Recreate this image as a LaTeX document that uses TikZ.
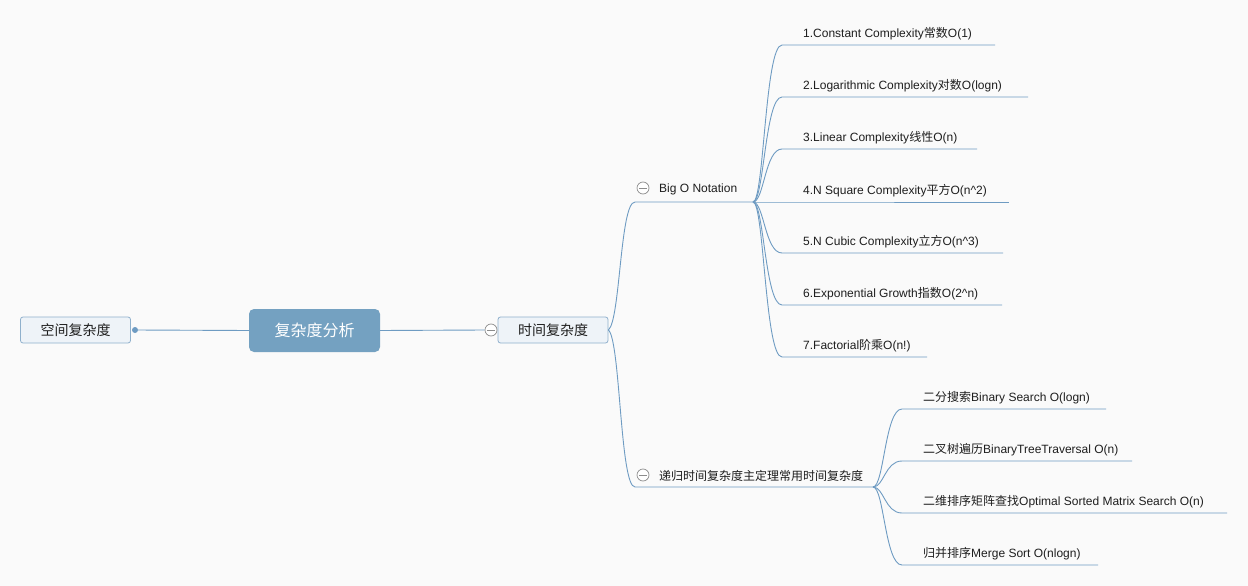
\documentclass[tikz,border=0pt]{standalone}
\usepackage{fontspec}
\setmainfont{Liberation Sans}
\newfontfamily\cjk{Noto Sans CJK SC}
\definecolor{bgcol}{HTML}{FAFAFA}
\definecolor{lineblue}{HTML}{6E9BC2}
\definecolor{boxborder}{HTML}{8FB0CC}
\definecolor{boxfill}{HTML}{EEF3F8}
\definecolor{centerfill}{HTML}{74A1C1}
\definecolor{txt}{HTML}{1E1E1E}
\definecolor{foldgray}{HTML}{8C8C8C}
\begin{document}
\begin{tikzpicture}[x=1pt,y=-1pt,
  conn/.style={draw=lineblue, line width=0.9pt},
  topicbox/.style={draw=boxborder, fill=boxfill, rounded corners=2.5pt, line width=0.8pt,
    minimum width=110pt, minimum height=26pt, inner sep=0pt, text=txt,
    font=\cjk\fontsize{14}{16}\selectfont},
  centerbox/.style={fill=centerfill, rounded corners=5pt, minimum width=131pt, minimum height=43pt,
    inner sep=0pt, text=white, font=\cjk\fontsize{16}{18}\selectfont},
  leaf/.style={anchor=west, inner sep=0pt, text=txt, font=\fontsize{12}{14}\selectfont},
  fold/.style={circle, draw=foldgray, fill=white, minimum size=12pt, inner sep=0pt, line width=0.7pt,
    path picture={\draw[foldgray, line width=0.7pt]
      ([xshift=-3.6pt]path picture bounding box.center) -- ([xshift=3.6pt]path picture bounding box.center);}},
  dotnode/.style={circle, fill=lineblue, minimum size=6pt, inner sep=0pt}
]
\useasboundingbox[fill=bgcol] (0,0) rectangle (1248,586);

% main nodes
\node[centerbox] (root) at (314.5,330.5) {复杂度分析};
\node[topicbox] (space) at (75.5,330) {空间复杂度};
\node[dotnode] (sdot) at (135,330) {};
\node[topicbox] (time) at (553,330) {时间复杂度};
\node[fold] (tfold) at (491,330) {};

\draw[conn] (root.west) -- (sdot);
\draw[conn] (root.east) -- (tfold.west);

% second level
\node[fold] (bofold) at (643,188) {};
\node[leaf] (bo) at (659,189.5) {Big O Notation};
\coordinate (bos) at (635,202);
\coordinate (boe) at (753,202);

\node[fold] (rcfold) at (643,475) {};
\node[leaf] (rc) at (659,476) {\cjk 递归时间复杂度主定理常用时间复杂度};
\coordinate (rcs) at (635,487);
\coordinate (rce) at (873,487);

\draw[conn] (time.east) .. controls +(12,-10) and +(-15,0) .. (bos) -- (boe);
\draw[conn] (time.east) .. controls +(12,10) and +(-15,0) .. (rcs) -- (rce);

% Big O children
\foreach \i/\y/\xe/\t in {
  1/45/995/{1.Constant Complexity{\cjk 常数}O(1)},
  2/97/1028/{2.Logarithmic Complexity{\cjk 对数}O(logn)},
  3/149/977/{3.Linear Complexity{\cjk 线性}O(n)},
  4/202/1009/{4.N Square Complexity{\cjk 平方}O(n\^{}2)},
  5/253/1003/{5.N Cubic Complexity{\cjk 立方}O(n\^{}3)},
  6/305/1002/{6.Exponential Growth{\cjk 指数}O(2\^{}n)},
  7/357/927/{7.Factorial{\cjk 阶乘}O(n!)}}{
  \node[leaf] (b\i) at (803,\y-11.5) {\t};
  \coordinate (b\i s) at (782,\y);
  \coordinate (b\i e) at (\xe,\y);
  \draw[conn] (boe) .. controls +(11,0) and +(-17,0) .. (b\i s) -- (b\i e);
}

% recursion children
\foreach \i/\y/\xe/\t in {
  1/409/1106/{{\cjk 二分搜索}Binary Search O(logn)},
  2/461/1132/{{\cjk 二叉树遍历}BinaryTreeTraversal O(n)},
  3/513/1227/{{\cjk 二维排序矩阵查找}Optimal Sorted Matrix Search O(n)},
  4/565/1098/{{\cjk 归并排序}Merge Sort O(nlogn)}}{
  \node[leaf] (r\i) at (923,\y-11) {\t};
  \coordinate (r\i s) at (902,\y);
  \coordinate (r\i e) at (\xe,\y);
  \draw[conn] (rce) .. controls +(11,0) and +(-17,0) .. (r\i s) -- (r\i e);
}
\end{tikzpicture}
\end{document}
